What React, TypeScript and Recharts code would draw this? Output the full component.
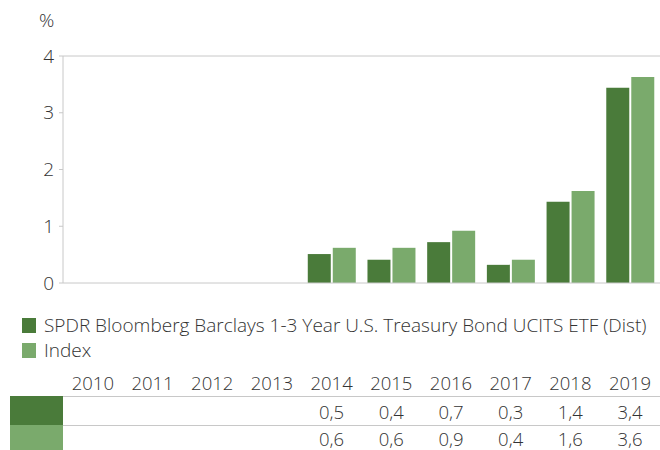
import React from 'react';
import { BarChart, Bar, XAxis, YAxis, ReferenceLine } from 'recharts';

const years = ['2010', '2011', '2012', '2013', '2014', '2015', '2016', '2017', '2018', '2019'];
const etfValues: (number | null)[] = [null, null, null, null, 0.51, 0.41, 0.72, 0.32, 1.43, 3.44];
const indexValues: (number | null)[] = [null, null, null, null, 0.62, 0.62, 0.92, 0.41, 1.62, 3.63];
const yTicks = [0, 1, 2, 3, 4];
const etfName = 'SPDR Bloomberg Barclays 1-3 Year U.S. Treasury Bond UCITS ETF (Dist)';
const indexName = 'Index';

const ETF_COLOR = '#4a7b3a';
const INDEX_COLOR = '#7aaa6c';
const GRID = '#c8c8c8';
const TEXT = '#333333';
const FONT = '"Open Sans", sans-serif';

const data = years.map((y, i) => ({ year: y, etf: etfValues[i], index: indexValues[i] }));

const fmt = (v: number | null) => (v == null ? '' : v.toFixed(1).replace('.', ','));

const PLOT_LEFT = 63;
const PLOT_WIDTH = 597;
const COL_W = PLOT_WIDTH / years.length;

const rows = [
  { vals: etfValues, color: ETF_COLOR, height: 29, pad: 6 },
  { vals: indexValues, color: INDEX_COLOR, height: 25, pad: 4 },
];

export default function App() {
  return (
    <div style={{ position: 'absolute', left: 0, top: 0, width: 660, height: 450, background: '#fff', fontFamily: FONT, fontWeight: 300, color: TEXT, overflow: 'hidden' }}>
      <div style={{ position: 'absolute', left: 39, top: 8, fontSize: 19, lineHeight: '24px' }}>%</div>
      <div style={{ position: 'absolute', left: 0, top: 0 }}>
        <BarChart width={660} height={300} data={data} margin={{ top: 56, right: 0, left: 0, bottom: 17 }} barCategoryGap="10%" barGap={2}>
          <XAxis dataKey="year" hide />
          <YAxis
            domain={[0, 4]}
            ticks={yTicks}
            width={63}
            axisLine={{ stroke: GRID }}
            tickLine={{ stroke: GRID }}
            tickSize={4}
            tickMargin={5}
            tick={{ fill: TEXT, fontSize: 19, fontFamily: FONT, fontWeight: 300 }}
            interval={0}
          />
          <ReferenceLine y={4} stroke={GRID} />
          <Bar dataKey="etf" fill={ETF_COLOR} isAnimationActive={false} />
          <Bar dataKey="index" fill={INDEX_COLOR} isAnimationActive={false} />
          <ReferenceLine y={0} stroke={GRID} />
        </BarChart>
      </div>
      <div style={{ position: 'absolute', left: 22, top: 313, fontSize: 19, lineHeight: '25px' }}>
        <div style={{ display: 'flex', alignItems: 'center', whiteSpace: 'nowrap' }}>
          <span style={{ display: 'inline-block', width: 14, height: 15, background: ETF_COLOR, marginRight: 8 }} />
          {etfName}
        </div>
        <div style={{ display: 'flex', alignItems: 'center', whiteSpace: 'nowrap' }}>
          <span style={{ display: 'inline-block', width: 14, height: 15, background: INDEX_COLOR, marginRight: 8 }} />
          {indexName}
        </div>
      </div>
      <div style={{ position: 'absolute', left: 0, top: 370, width: 660, fontSize: 18.5, lineHeight: '18px' }}>
        <div style={{ display: 'flex', height: 26, alignItems: 'center' }}>
          <div style={{ width: PLOT_LEFT }} />
          {years.map((y) => (
            <div key={y} style={{ width: COL_W, textAlign: 'center' }}>{y}</div>
          ))}
        </div>
        {rows.map((row, r) => (
          <div key={r} style={{ display: 'flex', height: row.height, boxSizing: 'border-box', paddingTop: row.pad, alignItems: 'flex-start', borderTop: `1px solid ${GRID}`, marginLeft: PLOT_LEFT, position: 'relative' }}>
            <div style={{ position: 'absolute', left: 10 - PLOT_LEFT, width: 53, top: -1, height: row.height, background: row.color }} />
            {row.vals.map((v, i) => (
              <div key={i} style={{ width: COL_W, textAlign: 'center' }}>{fmt(v)}</div>
            ))}
          </div>
        ))}
      </div>
    </div>
  );
}
